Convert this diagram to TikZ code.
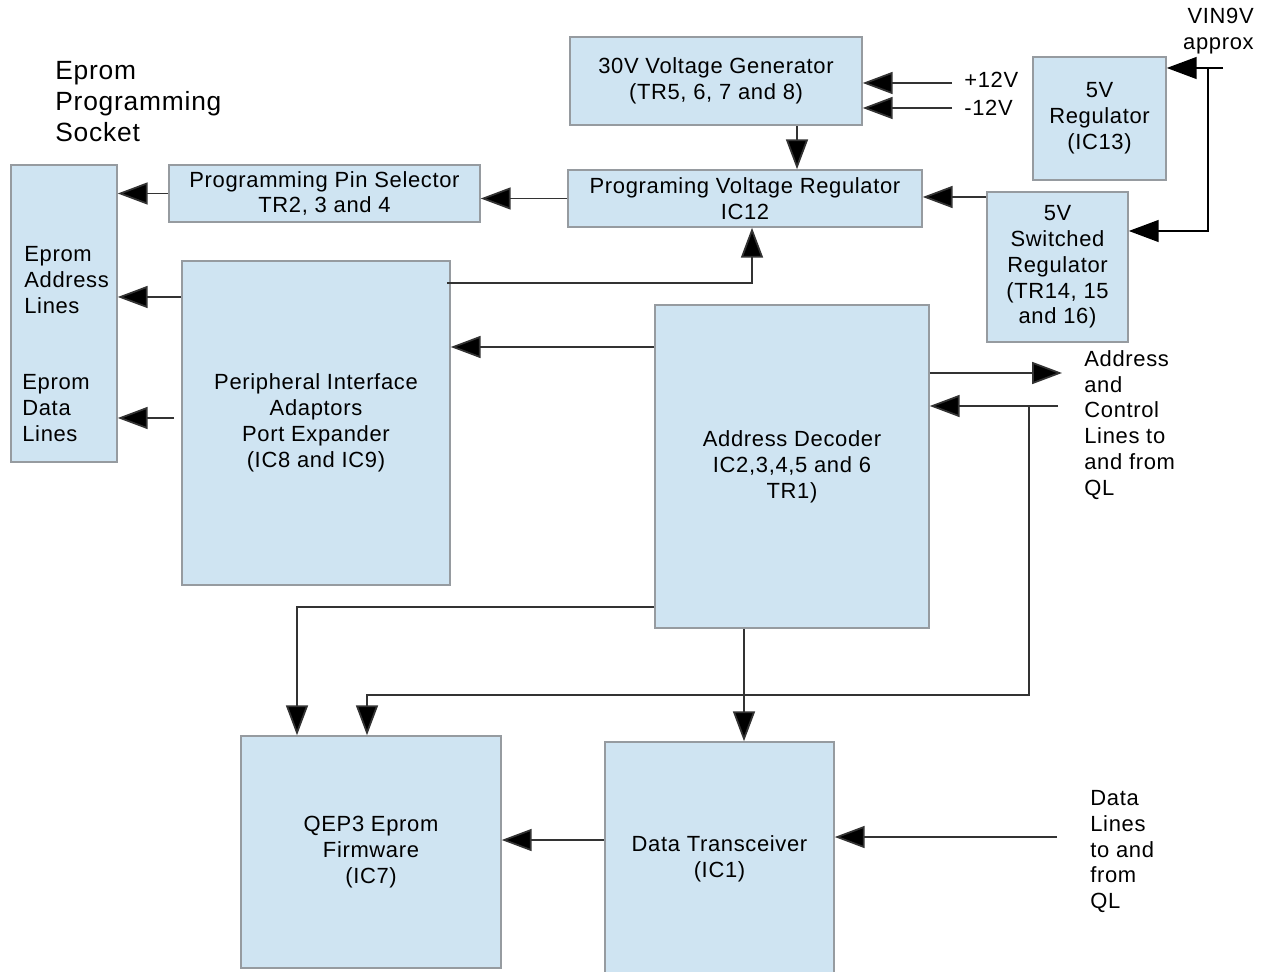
\documentclass[tikz,border=0pt]{standalone}
\usepackage{fontspec}
\setmainfont{Liberation Sans}[LetterSpace=3.0]
\usetikzlibrary{arrows.meta,calc}
\definecolor{boxfill}{RGB}{207,228,242}
\definecolor{boxline}{RGB}{150,155,160}
\tikzset{
  blk/.style={draw=boxline, fill=boxfill, line width=0.9pt, inner sep=0pt, align=center,
    font=\fontsize{12.5}{14.7}\selectfont},
  lbl/.style={inner sep=0pt, align=left, font=\fontsize{12.5}{14.7}\selectfont},
  arr/.style={draw=black!80, line width=1pt, -{Triangle[length=17pt,width=12.5pt,fill=black]}},
  wire/.style={draw=black!80, line width=1pt},
}
\begin{document}
\begin{tikzpicture}[x=0.02cm,y=-0.02cm]
\useasboundingbox (0,0) rectangle (1263,972);
% boxes
\node[blk, minimum width=2.12cm, minimum height=5.94cm] (sock) at (64,313.5) {};
\node[blk, minimum width=6.22cm, minimum height=1.14cm] (pin) at (324.5,193.5) {Programming Pin Selector\\TR2, 3 and 4};
\node[blk, minimum width=5.84cm, minimum height=1.76cm] (gen) at (716,81) {30V Voltage Generator\\(TR5, 6, 7 and 8)};
\node[blk, minimum width=7.08cm, minimum height=1.14cm] (preg) at (745,198.5) {Programing Voltage Regulator\\IC12};
\node[blk, minimum width=2.66cm, minimum height=2.46cm] (rfive) at (1099.5,118.5) {5V\\Regulator\\(IC13)};
\node[blk, minimum width=2.82cm, minimum height=3.0cm] (sw) at (1057.5,267) {5V\\Switched\\Regulator\\(TR14, 15\\and 16)};
\node[blk, minimum width=5.36cm, minimum height=6.48cm] (pia) at (316,423) {Peripheral Interface\\Adaptors\\Port Expander\\(IC8 and IC9)};
\node[blk, minimum width=5.48cm, minimum height=6.46cm] (dec) at (792,466.5) {Address Decoder\\IC2,3,4,5 and 6\\TR1)};
\node[blk, minimum width=5.2cm, minimum height=4.64cm] (qep) at (371,852) {QEP3 Eprom\\Firmware\\(IC7)};
\node[blk, minimum width=4.58cm, minimum height=4.66cm] (dt) at (719.5,858.5) {Data Transceiver\\(IC1)};
% labels
\node[lbl, anchor=north west, font=\fontsize{15}{17.6}\selectfont] (socklbl) at (55,61) {Eprom\\Programming\\Socket};
\node[lbl, anchor=north west] (addrl) at (24,246) {Eprom\\Address\\Lines};
\node[lbl, anchor=north west] (datal) at (22,374) {Eprom\\Data\\Lines};
\node[lbl, anchor=north east, align=right] (vinl) at (1254,8) {VIN9V\\approx};
\node[lbl, anchor=west] (ptw) at (964,80) {+12V};
\node[lbl, anchor=west] (mtw) at (964,108) {-12V};
\node[lbl, anchor=north west] (acl) at (1084,350) {Address\\and\\Control\\Lines to\\and from\\QL};
\node[lbl, anchor=north west] (dll) at (1090,790) {Data\\Lines\\to and\\from\\QL};
% helper coordinates
\coordinate (y283) at (752,283);
\coordinate (y297) at (0,297);
\coordinate (y418) at (0,418);
\coordinate (y347) at (0,347);
\coordinate (x797) at (797,0);
\coordinate (p12) at (952,83);
\coordinate (m12) at (952,108);
\coordinate (vin) at (1223,68);
\coordinate (vj) at (1208,68);
\coordinate (y231) at (0,231);
\coordinate (y197) at (0,197);
\coordinate (aout) at (1062,373);
\coordinate (ain) at (1058,406);
\coordinate (j1) at (1029,406);
\coordinate (c695) at (367,695);
\coordinate (c607) at (297,607);
\coordinate (x744) at (744,0);
\coordinate (y840) at (0,840);
\coordinate (din) at (1057,837);
% connectors
\draw[arr] (pin.west) -- (pin.west -| sock.east);
\draw[arr] (preg.west) -- (preg.west -| pin.east);
\draw[arr] (pia.west |- y297) -- (sock.east |- y297);
\draw[arr] ([xshift=-4pt]pia.west |- y418) -- (sock.east |- y418);
\draw[arr] ([xshift=-2pt]pia.east |- y283) -- (y283) -- (y283 |- preg.south);
\draw[arr] (dec.west |- y347) -- (pia.east |- y347);
\draw[arr] (gen.south -| x797) -- (preg.north -| x797);
\draw[arr] (p12) -- (p12 -| gen.east);
\draw[arr] (m12) -- (m12 -| gen.east);
\draw[arr, draw=black, line width=0.8pt] (vin) -- (vin -| rfive.east);
\draw[arr, draw=black, line width=0.8pt] (vj) -- (vj |- y231) -- (sw.east |- y231);
\draw[arr] (sw.west |- y197) -- (preg.east |- y197);
\draw[arr] (dec.east |- aout) -- (aout);
\draw[arr] (ain) -- (ain -| dec.east);
\draw[arr] (j1) -- (j1 |- c695) -- (c695) -- (c695 |- qep.north);
\draw[arr] (dec.west |- c607) -- (c607) -- (c607 |- qep.north);
\draw[arr] (dec.south -| x744) -- (dt.north -| x744);
\draw[arr] (dt.west |- y840) -- (qep.east |- y840);
\draw[arr] (din) -- (din -| dt.east);
\end{tikzpicture}
\end{document}
